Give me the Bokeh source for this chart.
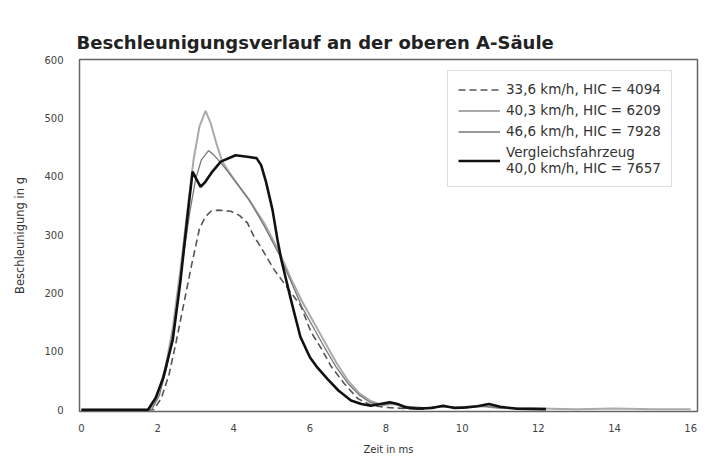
from bokeh.plotting import figure
from bokeh.models import Range1d, FixedTicker, Legend, LegendItem
from bokeh.embed import file_html
from bokeh.resources import INLINE

# --- data ---
t_ref = [0, 1.75, 1.95, 2.15, 2.4, 2.6, 2.8, 2.92, 3.02, 3.13, 3.25, 3.44, 3.66, 4.05, 4.4,
         4.6, 4.72, 4.85, 5.02, 5.15, 5.25, 5.5, 5.75, 6.0, 6.2, 6.46, 6.75, 7.08, 7.35, 7.6,
         7.85, 8.1, 8.3, 8.5, 8.8, 9.2, 9.5, 9.8, 10.1, 10.4, 10.7, 11.0, 11.4, 12.2]
g_ref = [0, 0, 20, 55, 120, 220, 340, 408, 395, 382, 390, 408, 425, 436, 433,
         431, 419, 390, 342, 291, 257, 189, 125, 90, 72, 53, 33, 16, 10, 7,
         10, 13, 10, 4, 2, 3, 7, 3, 4, 6, 10, 5, 2, 1]

t_403 = [0, 1.8, 2.0, 2.2, 2.4, 2.6, 2.8, 2.95, 3.1, 3.26, 3.4, 3.55, 3.7, 4.0, 4.4, 4.8,
         5.2, 5.5, 5.8, 6.1, 6.4, 6.7, 7.0, 7.3, 7.6, 7.9, 8.2, 8.5, 9.0, 9.5, 10, 10.5,
         11, 11.5, 12, 13, 14, 15, 16]
g_403 = [0, 0, 25, 70, 140, 240, 350, 430, 485, 512, 490, 455, 425, 395, 360, 320,
         270, 225, 185, 150, 115, 80, 50, 28, 15, 8, 10, 5, 3, 5, 4, 6,
         3, 2, 2, 1, 2, 1, 1]

t_466 = [0, 1.85, 2.05, 2.25, 2.45, 2.65, 2.85, 3.0, 3.15, 3.34, 3.5, 3.7, 4.0, 4.4, 4.8,
         5.2, 5.5, 5.8, 6.1, 6.4, 6.7, 7.0, 7.3, 7.6, 7.9, 8.2, 8.6, 9.0, 9.5, 10, 10.5, 11, 12]
g_466 = [0, 0, 25, 75, 150, 250, 340, 395, 428, 444, 435, 420, 395, 360, 315,
         265, 220, 175, 140, 105, 72, 45, 25, 12, 8, 12, 5, 3, 6, 3, 7, 3, 1]

t_336 = [0, 1.9, 2.1, 2.3, 2.5, 2.7, 2.9, 3.1, 3.25, 3.4, 3.6, 3.92, 4.15, 4.36, 4.53,
         4.7, 5.06, 5.4, 5.76, 6.03, 6.3, 6.55, 6.9, 7.26, 7.6, 8.0, 8.5, 9.0]
g_336 = [0, 0, 20, 60, 120, 185, 250, 310, 330, 340, 342, 340, 333, 320, 297,
         280, 240, 210, 178, 133, 105, 75, 45, 19, 8, 4, 2, 1]

labels = ["33,6 km/h, HIC = 4094", "40,3 km/h, HIC = 6209", "46,6 km/h, HIC = 7928",
          "Vergleichsfahrzeug\n40,0 km/h, HIC = 7657"]
x_ticks = [0, 2, 4, 6, 8, 10, 12, 14, 16]
y_ticks = [0, 100, 200, 300, 400, 500, 600]

FONT = "DejaVu Sans"

p = figure(width=711, height=462, output_backend="svg", toolbar_location=None,
           x_range=Range1d(-0.05, 16.18), y_range=Range1d(-3, 600),
           title="Beschleunigungsverlauf an der oberen A-Säule",
           min_border_left=79, min_border_right=14, min_border_top=59, min_border_bottom=51)
p.title.text_font = FONT
p.title.text_font_size = "18px"
p.title.text_font_style = "bold"
p.title.text_color = "#222222"
p.title.offset = -3
p.title.standoff = 14
p.background_fill_color = "white"
p.border_fill_color = "white"
p.outline_line_color = "#666666"
p.outline_line_width = 1.5
p.xgrid.visible = False
p.ygrid.visible = False

for ax in (p.xaxis[0], p.yaxis[0]):
    ax.major_tick_line_color = None
    ax.minor_tick_line_color = None
    ax.axis_line_color = None
    ax.major_label_text_font = FONT
    ax.major_label_text_font_size = "10px"
    ax.major_label_text_color = "#444444"
    ax.axis_label_text_font = FONT
    ax.axis_label_text_font_style = "normal"
    ax.axis_label_text_color = "#333333"
p.xaxis.axis_label_text_font_size = "10px"
p.yaxis.axis_label_text_font_size = "11.5px"
p.xaxis.ticker = FixedTicker(ticks=x_ticks)
p.yaxis.ticker = FixedTicker(ticks=y_ticks)
p.xaxis.axis_label = "Zeit in ms"
p.yaxis.axis_label = "Beschleunigung in g"
p.xaxis.major_label_standoff = 6
p.yaxis.major_label_standoff = 10
p.xaxis.axis_label_standoff = 9
p.yaxis.axis_label_standoff = 14

r1 = p.line(t_336, g_336, line_color="#555555", line_width=1.6, line_dash="7 4")
r2 = p.line(t_403, g_403, line_color="#aaaaaa", line_width=2.0)
r3 = p.line(t_466, g_466, line_color="#777777", line_width=1.3)
r4 = p.line(t_ref, g_ref, line_color="#111111", line_width=2.6)

legend = Legend(items=[LegendItem(label=labels[0], renderers=[r1]),
                       LegendItem(label=labels[1], renderers=[r2]),
                       LegendItem(label=labels[2], renderers=[r3]),
                       LegendItem(label=labels[3], renderers=[r4])],
                location=(368, 224))
legend.label_text_font = FONT
legend.label_text_font_size = "13.5px"
legend.label_text_color = "#333333"
legend.label_height = 15
legend.glyph_width = 42
legend.glyph_height = 15
legend.label_standoff = 6
legend.spacing = 5
legend.padding = 10
legend.margin = 0
legend.border_line_color = "#bbbbbb"
legend.border_line_width = 1.5
legend.background_fill_alpha = 1
p.add_layout(legend)

open("out.html", "w").write(file_html(p, INLINE))
